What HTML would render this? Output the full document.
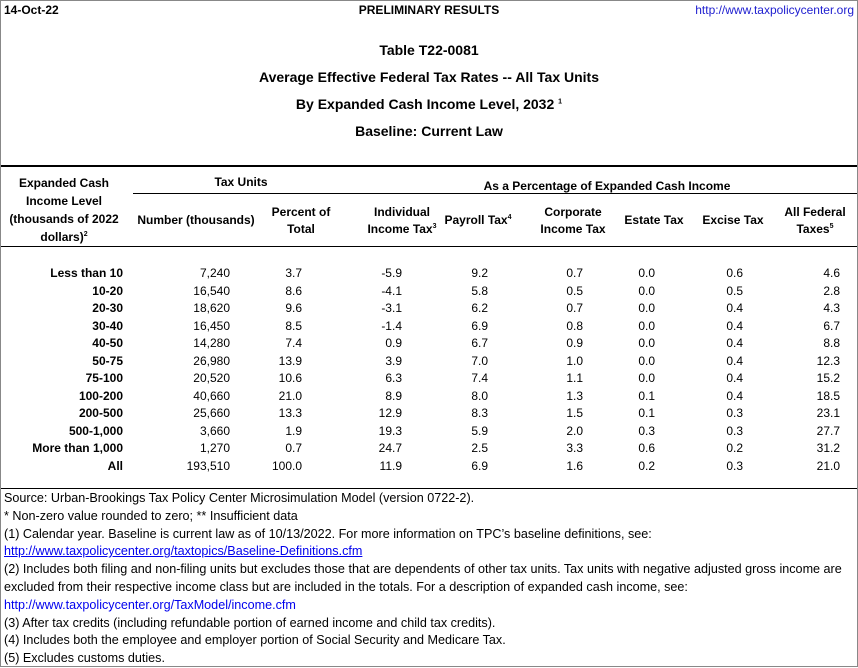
<!DOCTYPE html>
<html><head><style>
body{margin:0;width:858px;height:667px;position:relative;background:#fff;font-family:"Liberation Sans",sans-serif;font-size:12px;color:#000;overflow:hidden}
.t{position:absolute;white-space:nowrap;line-height:14px}
.b{font-weight:bold}
.r{text-align:right}
.c{text-align:center}
.h{position:absolute;background:#000}
sup{font-size:7px;line-height:0}
.ti{position:absolute;left:0;width:858px;text-align:center;font-weight:bold;font-size:14px;line-height:16px}
</style></head><body>
<div style="position:absolute;left:0;top:0;width:856px;height:665px;border:1px solid #888"></div>
<div class="t b" style="left:4px;top:3px">14-Oct-22</div>
<div class="t b c" style="left:229px;width:400px;top:3px">PRELIMINARY RESULTS</div>
<div class="t r" style="right:4px;top:3px;color:#2020d0">http://www.taxpolicycenter.org</div>
<div class="ti" style="top:42px">Table T22-0081</div>
<div class="ti" style="top:69px">Average Effective Federal Tax Rates -- All Tax Units</div>
<div class="ti" style="top:96px">By Expanded Cash Income Level, 2032 <sup>1</sup></div>
<div class="ti" style="top:123px">Baseline: Current Law</div>
<div class="h" style="left:1px;width:856px;top:165px;height:2px"></div>
<div class="h" style="left:133px;width:724px;top:193px;height:1px"></div>
<div class="h" style="left:1px;width:856px;top:246px;height:1px"></div>
<div class="h" style="left:1px;width:856px;top:488px;height:1px"></div>
<div class="t b c" style="left:1px;width:126px;top:174px;line-height:18px">Expanded Cash<br>Income Level<br>(thousands of 2022<br>dollars)<sup>2</sup></div>
<div class="t b c" style="left:191px;width:100px;top:175px">Tax Units</div>
<div class="t b c" style="left:407px;width:400px;top:179px">As a Percentage of Expanded Cash Income</div>
<div class="t b c" style="left:131px;width:130px;top:213px">Number (thousands)</div>
<div class="t b c" style="left:251px;width:100px;top:204px;line-height:17px">Percent of<br>Total</div>
<div class="t b c" style="left:352px;width:100px;top:204px;line-height:17px">Individual<br>Income Tax<sup>3</sup></div>
<div class="t b c" style="left:428px;width:100px;top:213px">Payroll Tax<sup>4</sup></div>
<div class="t b c" style="left:523px;width:100px;top:204px;line-height:17px">Corporate<br>Income Tax</div>
<div class="t b c" style="left:604px;width:100px;top:213px">Estate Tax</div>
<div class="t b c" style="left:683px;width:100px;top:213px">Excise Tax</div>
<div class="t b c" style="left:765px;width:100px;top:204px;line-height:17px">All Federal<br>Taxes<sup>5</sup></div>
<div id="rows"></div>
<div class="t" style="left:4px;top:490px;line-height:17.8px;font-size:12.6px">Source: Urban-Brookings Tax Policy Center Microsimulation Model (version 0722-2).<br>* Non-zero value rounded to zero; ** Insufficient data<br>(1) Calendar year. Baseline is current law as of 10/13/2022. For more information on TPC’s baseline definitions, see:<br><span style="color:#00e;text-decoration:underline">http://www.taxpolicycenter.org/taxtopics/Baseline-Definitions.cfm</span><br>(2) Includes both filing and non-filing units but excludes those that are dependents of other tax units. Tax units with negative adjusted gross income are<br>excluded from their respective income class but are included in the totals. For a description of expanded cash income, see:<br><span style="color:#00e">http://www.taxpolicycenter.org/TaxModel/income.cfm</span><br>(3) After tax credits (including refundable portion of earned income and child tax credits).<br>(4) Includes both the employee and employer portion of Social Security and Medicare Tax.<br>(5) Excludes customs duties.</div>
<script>
var d=[["Less than 10","7,240","3.7","-5.9","9.2","0.7","0.0","0.6","4.6"],
["10-20","16,540","8.6","-4.1","5.8","0.5","0.0","0.5","2.8"],
["20-30","18,620","9.6","-3.1","6.2","0.7","0.0","0.4","4.3"],
["30-40","16,450","8.5","-1.4","6.9","0.8","0.0","0.4","6.7"],
["40-50","14,280","7.4","0.9","6.7","0.9","0.0","0.4","8.8"],
["50-75","26,980","13.9","3.9","7.0","1.0","0.0","0.4","12.3"],
["75-100","20,520","10.6","6.3","7.4","1.1","0.0","0.4","15.2"],
["100-200","40,660","21.0","8.9","8.0","1.3","0.1","0.4","18.5"],
["200-500","25,660","13.3","12.9","8.3","1.5","0.1","0.3","23.1"],
["500-1,000","3,660","1.9","19.3","5.9","2.0","0.3","0.3","27.7"],
["More than 1,000","1,270","0.7","24.7","2.5","3.3","0.6","0.2","31.2"],
["All","193,510","100.0","11.9","6.9","1.6","0.2","0.3","21.0"]];
var R=[123,230,302,402,488,583,655,743,840],h="";
d.forEach(function(r,i){var y=266+i*17.5;r.forEach(function(v,j){h+='<div class="t r'+(j==0?' b':'')+'" style="right:'+(858-R[j])+'px;top:'+y+'px">'+v+'</div>';});});
document.getElementById("rows").innerHTML=h;
</script>
</body></html>
